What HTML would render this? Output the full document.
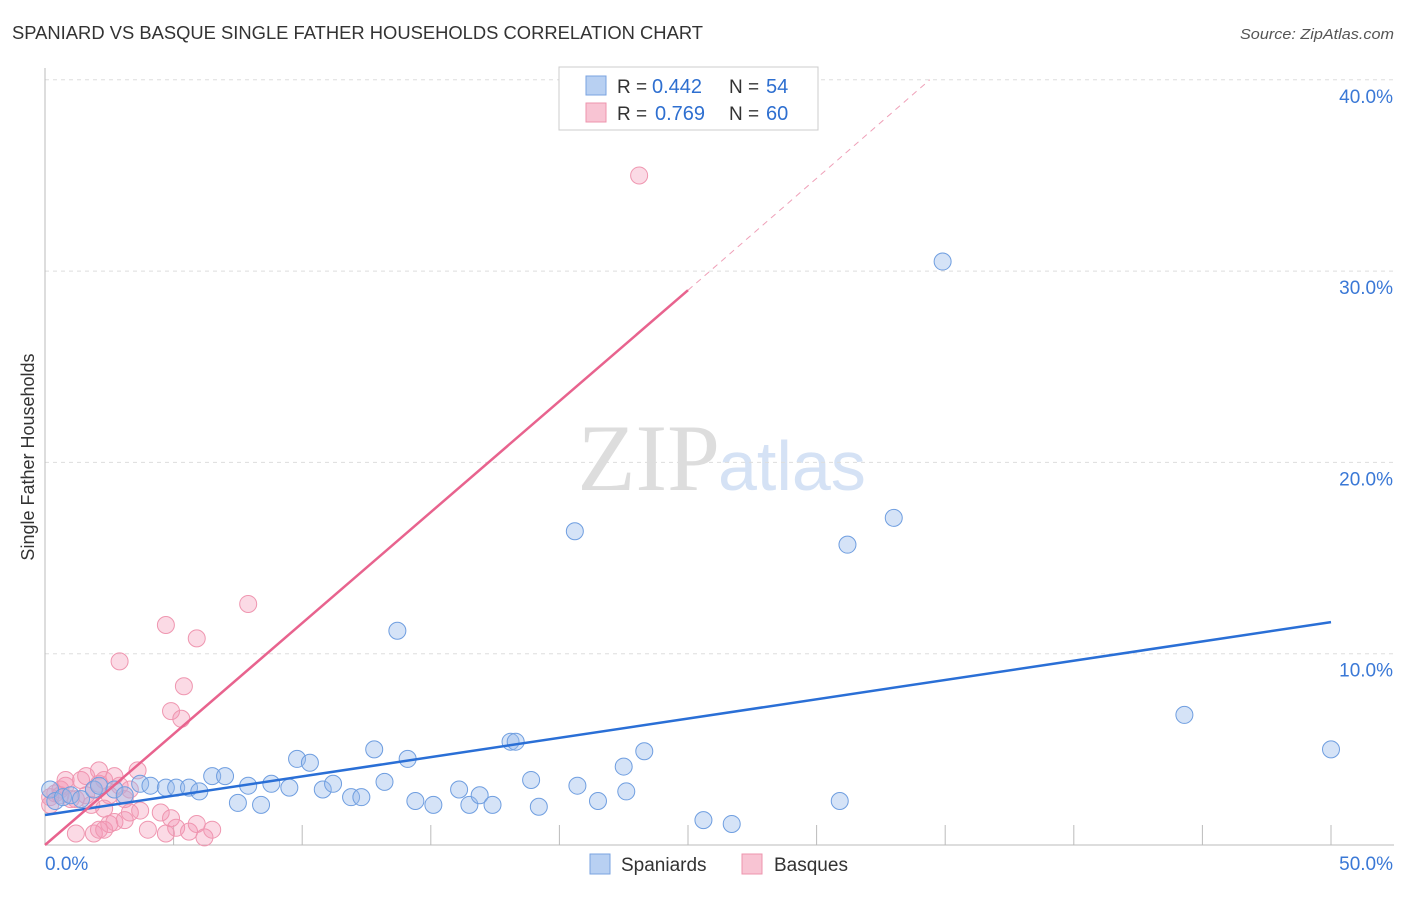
<!DOCTYPE html>
<html><head><meta charset="utf-8"><style>
body{margin:0;background:#fff;font-family:"Liberation Sans",sans-serif}
</style></head><body>
<svg width="1406" height="892" xmlns="http://www.w3.org/2000/svg" font-family="Liberation Sans, sans-serif">
<text x="12" y="39" font-size="18" fill="#333" textLength="691" lengthAdjust="spacingAndGlyphs">SPANIARD VS BASQUE SINGLE FATHER HOUSEHOLDS CORRELATION CHART</text>
<text x="1394" y="39" font-size="15" fill="#555" font-style="italic" text-anchor="end" textLength="154" lengthAdjust="spacingAndGlyphs">Source: ZipAtlas.com</text>
<text x="34" y="457" font-size="18" fill="#333" transform="rotate(-90 34 457)" text-anchor="middle">Single Father Households</text>
<text x="720" y="490" font-size="95" fill="#ddd" font-family="Liberation Serif, serif" text-anchor="end">ZIP</text>
<text x="718" y="490" font-size="70" fill="#d5e2f5">atlas</text>
<g id="grid"></g><g id="marks"></g>
<rect x="559" y="67" width="259" height="63" fill="#fff" stroke="#ccc"/>
<rect x="586" y="76" width="20" height="19" fill="#b8d0f2" stroke="#7aa3e0"/>
<rect x="586" y="103" width="20" height="19" fill="#f8c4d3" stroke="#ee94ae"/>
<text x="617" y="93" font-size="19" fill="#333">R =</text>
<text x="652" y="93" font-size="20" fill="#2e6fd0">0.442</text>
<text x="729" y="93" font-size="19" fill="#333">N =</text>
<text x="766" y="93" font-size="20" fill="#2e6fd0">54</text>
<text x="617" y="120" font-size="19" fill="#333">R =</text>
<text x="655" y="120" font-size="20" fill="#2e6fd0">0.769</text>
<text x="729" y="120" font-size="19" fill="#333">N =</text>
<text x="766" y="120" font-size="20" fill="#2e6fd0">60</text>
<rect x="590" y="854" width="20" height="20" fill="#b8d0f2" stroke="#7aa3e0"/>
<text x="621" y="871" font-size="19" fill="#333">Spaniards</text>
<rect x="742" y="854" width="20" height="20" fill="#f8c4d3" stroke="#ee94ae"/>
<text x="774" y="871" font-size="19" fill="#333">Basques</text>
</svg>
<script>
const yTicks=[10,20,30,40];
const xLabels=["0.0%","50.0%"];
const spX=[0.2,0.4,0.7,1,1.4,1.9,2.1,2.7,3.1,3.7,4.1,4.7,5.1,5.6,6,6.5,7,7.5,7.9,8.4,8.8,9.5,9.8,10.3,10.8,11.2,11.9,12.3,12.8,13.2,13.7,14.1,14.4,15.1,16.1,16.5,16.9,17.4,18.1,18.3,18.9,19.2,20.6,20.7,21.5,22.5,22.6,23.3,25.6,26.7,30.9,31.2,33,34.9,44.3,50];
const spY=[2.9,2.3,2.5,2.6,2.4,2.9,3.1,2.9,2.6,3.2,3.1,3,3,3,2.8,3.6,3.6,2.2,3.1,2.1,3.2,3,4.5,4.3,2.9,3.2,2.5,2.5,5,3.3,11.2,4.5,2.3,2.1,2.9,2.1,2.6,2.1,5.4,5.4,3.4,2,16.4,3.1,2.3,4.1,2.8,4.9,1.3,1.1,2.3,15.7,17.1,30.5,6.8,5];
const baX=[0.2,0.4,0.6,0.8,1,1.2,1.4,1.6,1.9,2.1,2.1,2.3,2.5,2.7,2.9,3.1,3.3,3.6,0.2,0.6,1.2,1.9,2.1,2.3,2.5,2.7,3.1,3.3,3.7,4,4.5,4.7,4.9,5.1,5.6,5.9,6.2,6.5,2.9,4.7,5.9,5.4,4.9,5.3,7.9,23.1,1.6,0.8,2.3,1.8];
const baY=[2.5,2.7,2.6,3.1,2.4,2.4,3.4,2.6,2.9,3.2,3.9,3.4,2.6,3.6,3.1,2.4,2.9,3.9,2.1,2.9,0.6,0.6,0.8,0.8,1.1,1.2,1.3,1.7,1.8,0.8,1.7,0.6,1.4,0.9,0.7,1.1,0.4,0.8,9.6,11.5,10.8,8.3,7,6.6,12.6,35,3.6,3.4,1.9,2.1];
const sx=v=>45+v*25.72, sy=v=>845-v*19.13;
const NS="http://www.w3.org/2000/svg";
const g=document.getElementById('grid'), m=document.getElementById('marks');
function el(t,a,p){const e=document.createElementNS(NS,t);for(const k in a)e.setAttribute(k,a[k]);p.appendChild(e);return e;}
yTicks.forEach(t=>{
 const l=el('line',{x1:45,x2:1394,y1:sy(t),y2:sy(t),stroke:'#ddd','stroke-dasharray':'4,4'},g);
 
 
 const tx=el('text',{x:1393,y:sy(t)+23,'font-size':19,fill:'#3a78d6','text-anchor':'end'},g);
 tx.textContent=t.toFixed(1)+'%';
 
 
});
const ax=el('line',{x1:45,x2:45,y1:68,y2:845,stroke:'#bbb'},g);


const bx=el('line',{x1:45,x2:1394,y1:845,y2:845,stroke:'#bbb'},g);


for(let i=1;i<=10;i++){const t=el('line',{x1:sx(i*5),x2:sx(i*5),y1:825,y2:845,stroke:'#bbb'},g);
 
 }
xLabels.forEach((s,i)=>{const t=el('text',{x:i?1393:45,y:870,'font-size':19,fill:'#3a78d6','text-anchor':i?'end':'start'},g);t.textContent=s;
 
 });
baX.forEach((x,i)=>{const c=el('circle',{cx:sx(x),cy:sy(baY[i]),r:8.5,fill:'rgba(244,150,180,0.35)',stroke:'#ef96b0','stroke-width':1},m);
 
 });
spX.forEach((x,i)=>{const c=el('circle',{cx:sx(x),cy:sy(spY[i]),r:8.5,fill:'rgba(150,185,235,0.4)',stroke:'#6f9ee0','stroke-width':1},m);
 
 });
const t1=el('line',{x1:sx(0),y1:sy(1.57),x2:sx(50),y2:sy(11.65),stroke:'#2a6fd6','stroke-width':2.5},m);


const t2=el('line',{x1:sx(0),y1:sy(0),x2:sx(25),y2:sy(29),stroke:'#e8638e','stroke-width':2.5},m);


const t3=el('line',{x1:sx(25),y1:sy(29),x2:sx(34.4),y2:sy(40),stroke:'#efa0b8','stroke-width':1,'stroke-dasharray':'6,5'},m);


</script>
</body></html>
